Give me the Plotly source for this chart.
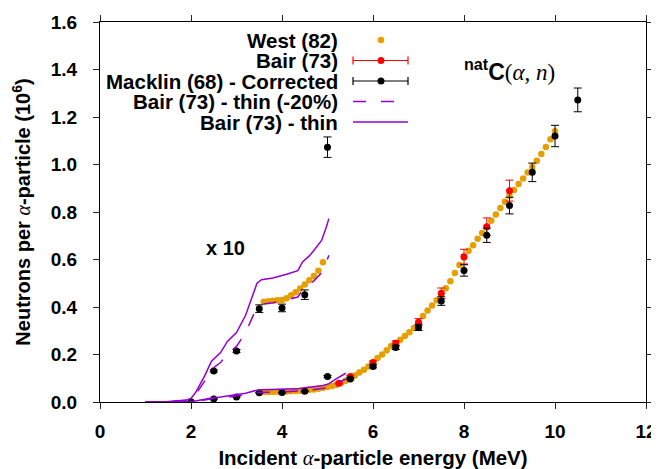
import plotly.graph_objects as go

# ---------------- data ----------------
west_e = [3.6, 3.7, 3.8, 3.9, 4.0, 4.1, 4.2, 4.3, 4.4, 4.5, 4.6, 4.7, 4.8, 4.9,
          5.0, 5.1, 5.2, 5.3, 5.4, 5.5, 5.6, 5.7, 5.8, 5.9, 6.0, 6.1, 6.2, 6.3,
          6.4, 6.5, 6.6, 6.7, 6.8, 6.9, 7.0, 7.1, 7.2, 7.3, 7.4, 7.5, 7.6, 7.7,
          7.8, 7.9, 8.0, 8.1, 8.2, 8.3, 8.4, 8.5, 8.6, 8.7, 8.8, 8.9, 9.0, 9.1,
          9.2, 9.3, 9.4, 9.5, 9.6, 9.7, 9.8, 9.9, 10.0]
west_y = [0.0422, 0.0424, 0.0426, 0.0428, 0.0430, 0.0437, 0.0449, 0.0462, 0.0478,
          0.0495, 0.0513, 0.0531, 0.0553, 0.0588,
          0.063, 0.067, 0.073, 0.080, 0.089, 0.100, 0.112, 0.124, 0.136, 0.150,
          0.166, 0.185, 0.200, 0.218, 0.236, 0.248, 0.262, 0.278, 0.294, 0.312,
          0.332, 0.362, 0.385, 0.406, 0.428, 0.452, 0.479, 0.508, 0.543, 0.577,
          0.608, 0.637, 0.660, 0.687, 0.712, 0.738, 0.763, 0.790, 0.817, 0.843,
          0.868, 0.893, 0.918, 0.941, 0.966, 0.990, 1.016, 1.044, 1.074, 1.106,
          1.140]

bair_e = [5.25, 5.5, 6.0, 6.5, 7.0, 7.5, 8.0, 8.5, 9.0]
bair_y = [0.079, 0.107, 0.166, 0.247, 0.336, 0.458, 0.612, 0.738, 0.890]
bair_err = [0.003, 0.004, 0.007, 0.011, 0.015, 0.022, 0.031, 0.037, 0.044]

mack_e = [2.0, 2.5, 3.0, 3.5, 4.0, 4.5, 5.0, 5.5, 6.0, 6.5, 7.0, 7.5, 8.0, 8.5,
          9.0, 9.5, 10.0, 10.5]
mack_y = [0.0000, 0.0131, 0.0215, 0.0393, 0.0396, 0.0452, 0.1073, 0.097, 0.150,
          0.230, 0.314, 0.425, 0.554, 0.702, 0.827, 0.967, 1.120, 1.272]
mack_err = [0.0002, 0.0004, 0.0006, 0.0016, 0.0016, 0.0020, 0.0043, 0.004, 0.006,
            0.009, 0.013, 0.018, 0.024, 0.030, 0.035, 0.039, 0.045, 0.050]

thin_e = [1.0, 1.5, 1.9, 2.0, 2.1, 2.3, 2.45, 2.65, 2.8, 3.0, 3.2, 3.3, 3.45,
          3.55, 3.8, 4.1, 4.35, 4.45, 4.6, 4.7, 4.87, 4.98, 5.03, 5.2, 5.4]
thin_y = [0.0, 0.0002, 0.0008, 0.0015, 0.0040, 0.0110, 0.0172, 0.0208, 0.0255,
          0.0292, 0.0365, 0.0420, 0.0500, 0.0515, 0.0522, 0.0538, 0.0553, 0.0590,
          0.0615, 0.0638, 0.0680, 0.0740, 0.0772, 0.0980, 0.1210]
thin20_y = [0.0, 0.00016, 0.00064, 0.0012, 0.0032, 0.0088, 0.0138, 0.0166, 0.0204,
            0.0234, 0.0292, 0.0336, 0.0400, 0.0412, 0.0418, 0.0430, 0.0442, 0.0472,
            0.0492, 0.0510, 0.0544, 0.0592, 0.0618, 0.0784, 0.0968]

SCALE = 10          # the "x 10" copies of the low-energy region
WEST_X10_MAX = 4.95
MACK_X10_RANGE = (1.95, 5.05)
THIN_X10_MAX = 5.05

x_ticks = [0, 2, 4, 6, 8, 10, 12]
y_ticks = [0.0, 0.2, 0.4, 0.6, 0.8, 1.0, 1.2, 1.4, 1.6]
y_ticklabels = ["0.0", "0.2", "0.4", "0.6", "0.8", "1.0", "1.2", "1.4", "1.6"]

legend_labels = ["West (82)", "Bair (73)", "Macklin (68) - Corrected",
                 "Bair (73) - thin (-20%)", "Bair (73) - thin"]

# ---------------- styles ----------------
ORANGE = "#E69F00"
RED = "#FF0000"
BLACK = "#000000"
PURPLE = "#9400D3"
FONT = "Liberation Sans, Arial, sans-serif"
SERIF = "Liberation Serif, DejaVu Serif, serif"
DASH = "13px,15px"

OFF = 8                       # default page body margin
W, H = 659 - OFF, 469 - OFF
ML, MR, MT, MB = 100 - OFF, 13, 22 - OFF, 67
PW, PH = W - ML - MR, H - MT - MB


def fx(px):   # page pixel -> paper
    return (px - OFF - ML) / PW


def fy(py):
    return (OFF + MT + PH - py) / PH


fig = go.Figure()

# West (82)
fig.add_trace(go.Scatter(x=west_e, y=west_y, mode="markers",
                         marker=dict(color=ORANGE, size=6.5), showlegend=False))
wx = [e for e in west_e if e < WEST_X10_MAX]
wy = [v * SCALE for e, v in zip(west_e, west_y) if e < WEST_X10_MAX]
fig.add_trace(go.Scatter(x=wx, y=wy, mode="markers",
                         marker=dict(color=ORANGE, size=6.5), showlegend=False))

# Bair (73)
fig.add_trace(go.Scatter(x=bair_e, y=bair_y, mode="markers",
                         marker=dict(color=RED, size=7),
                         error_y=dict(type="data", array=bair_err, visible=True,
                                      color=RED, thickness=1, width=4),
                         showlegend=False))

# Macklin (68) - Corrected
fig.add_trace(go.Scatter(x=mack_e, y=mack_y, mode="markers",
                         marker=dict(color=BLACK, size=7),
                         error_y=dict(type="data", array=mack_err, visible=True,
                                      color=BLACK, thickness=1, width=4),
                         showlegend=False))
sel = [i for i, e in enumerate(mack_e) if MACK_X10_RANGE[0] <= e <= MACK_X10_RANGE[1]]
fig.add_trace(go.Scatter(x=[mack_e[i] for i in sel],
                         y=[mack_y[i] * SCALE for i in sel], mode="markers",
                         marker=dict(color=BLACK, size=7),
                         error_y=dict(type="data", array=[mack_err[i] * SCALE for i in sel],
                                      visible=True, color=BLACK, thickness=1, width=4),
                         showlegend=False))

# Bair (73) - thin (-20%)  and  Bair (73) - thin
tsel = [i for i, e in enumerate(thin_e) if e <= THIN_X10_MAX]
fig.add_trace(go.Scatter(x=thin_e, y=thin20_y, mode="lines",
                         line=dict(color=PURPLE, width=1.5, dash=DASH), showlegend=False))
fig.add_trace(go.Scatter(x=[thin_e[i] for i in tsel], y=[thin20_y[i] * SCALE for i in tsel],
                         mode="lines", line=dict(color=PURPLE, width=1.5, dash=DASH),
                         showlegend=False))
fig.add_trace(go.Scatter(x=thin_e, y=thin_y, mode="lines",
                         line=dict(color=PURPLE, width=1.5), showlegend=False))
fig.add_trace(go.Scatter(x=[thin_e[i] for i in tsel], y=[thin_y[i] * SCALE for i in tsel],
                         mode="lines", line=dict(color=PURPLE, width=1.5), showlegend=False))

# ---------------- manual legend (text left of sample) ----------------
rows_y = [40, 60.5, 81, 101.5, 122]
shapes = []
annotations = []
for lab, ry in zip(legend_labels, rows_y):
    annotations.append(dict(x=fx(340), y=fy(ry), xref="paper", yref="paper",
                            text=lab, showarrow=False, xanchor="right", yanchor="middle",
                            font=dict(family=FONT, size=20.5, color="black", weight="bold")))

L0, L1, LC = 353, 408, 381


def circ(cx, cy, r, col):
    return dict(type="circle", xref="paper", yref="paper",
                x0=fx(cx - r), x1=fx(cx + r), y0=fy(cy + r), y1=fy(cy - r),
                fillcolor=col, line=dict(color=col, width=0))


def seg(x0, y0, x1, y1, col, dash="solid", w=1.2):
    return dict(type="line", xref="paper", yref="paper",
                x0=fx(x0), y0=fy(y0), x1=fx(x1), y1=fy(y1),
                line=dict(color=col, width=w, dash=dash))


shapes.append(circ(LC, rows_y[0], 3.3, ORANGE))
for col, ry in [(RED, rows_y[1]), (BLACK, rows_y[2])]:
    shapes.append(seg(L0, ry, L1, ry, col))
    shapes.append(seg(L0, ry - 4, L0, ry + 4, col))
    shapes.append(seg(L1, ry - 4, L1, ry + 4, col))
    shapes.append(circ(LC, ry, 3.5, col))
shapes.append(seg(L0, rows_y[3], L1, rows_y[3], PURPLE, dash=DASH, w=1.5))
shapes.append(seg(L0, rows_y[4], L1, rows_y[4], PURPLE, w=1.5))

annotations.append(dict(x=2.76, y=0.65, xref="x", yref="y", text="x 10", showarrow=False,
                        xanchor="center", yanchor="middle",
                        font=dict(family=FONT, size=20, color="black", weight="bold")))
annotations.append(dict(x=9.0, y=1.40, xref="x", yref="y",
                        text="<sup>nat</sup>C<span style=\"font-family:" + SERIF +
                             ";font-weight:normal\">(<i>α</i>, <i>n</i>)</span>",
                        showarrow=False, xanchor="center", yanchor="middle",
                        font=dict(family=FONT, size=23, color="black", weight="bold")))

axis_common = dict(showgrid=False, ticks="outside", ticklen=6, tickwidth=1,
                   tickcolor="#222", showline=True, linecolor="black", linewidth=1.3,
                   mirror="allticks", automargin=False,
                   tickfont=dict(family=FONT, size=19, color="black", weight="bold"))

fig.update_layout(
    width=W, height=H,
    margin=dict(l=ML, r=MR, t=MT, b=MB, autoexpand=False),
    paper_bgcolor="white", plot_bgcolor="white",
    showlegend=False,
    shapes=shapes, annotations=annotations,
    xaxis=dict(range=[0, 12], tickvals=x_ticks, ticktext=[str(t) for t in x_ticks],
               zeroline=False, ticklabelstandoff=6,
               title=dict(text="Incident <span style=\"font-family:" + SERIF +
                               ";font-weight:normal\"><i>α</i></span>-particle energy (MeV)",
                          font=dict(family=FONT, size=20.5, color="black", weight="bold"),
                          standoff=9),
               **axis_common),
    yaxis=dict(range=[0, 1.6], tickvals=y_ticks, ticktext=y_ticklabels,
               zeroline=True, zerolinecolor="#555", zerolinewidth=2.5,
               ticklabelstandoff=12,
               title=dict(text="Neutrons per <span style=\"font-family:" + SERIF +
                               ";font-weight:normal\"><i>α</i></span>-particle (10<sup>6</sup>)",
                          font=dict(family=FONT, size=20, color="black", weight="bold"),
                          standoff=14),
               **axis_common),
)

fig.write_html("out.html")
